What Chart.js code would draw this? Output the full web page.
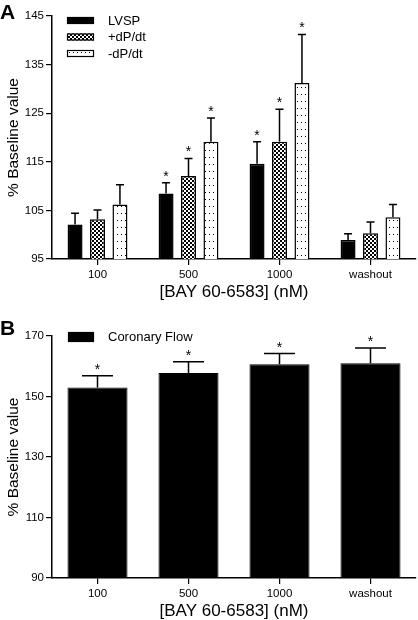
<!DOCTYPE html>
<html>
<head>
<meta charset="utf-8">
<script src="https://cdn.jsdelivr.net/npm/chart.js@4.4.0/dist/chart.umd.min.js"></script>
<style>
  html, body { margin: 0; padding: 0; background: #fff; }
  #wrap { position: relative; width: 418px; height: 620px; }
  canvas { position: absolute; left: 0; }
  #chartA { top: 0; }
  #chartB { top: 310px; }
</style>
</head>
<body>
<div id="wrap">
  <canvas id="chartA" width="418" height="310" style="width:418px;height:310px"></canvas>
  <canvas id="chartB" width="418" height="310" style="width:418px;height:310px"></canvas>
</div>
<script>
// doses of BAY 60-6583 on the x axis
const doses = ["100", "500", "1000", "washout"];

// panel A: % baseline, mean and SEM (upper whisker only)
const lvsp = [102.1, 108.5, 114.6, 98.9];
const lvspErr = [2.3, 2.2, 4.5, 1.3];
const dpPlus = [103.2, 112.1, 119.1, 100.3];
const dpPlusErr = [1.9, 3.6, 6.7, 2.3];
const dpMinus = [106.2, 119.1, 131.2, 103.6];
const dpMinusErr = [4.1, 4.9, 10.0, 2.6];
const sigA = [false, true, true, false];

// panel B: coronary flow
const flow = [153.0, 157.8, 160.7, 161.0];
const flowErr = [3.9, 3.7, 3.5, 5.0];
const sigB = [true, true, true, true];

const FONT = "'Liberation Sans', Arial, Helvetica, sans-serif";
Chart.defaults.font.family = FONT;
Chart.defaults.color = "#000";

// fill patterns for the bars
function makePattern(w, h, bg, cells, size) {
  const c = document.createElement("canvas");
  c.width = w; c.height = h;
  const g = c.getContext("2d");
  g.fillStyle = bg; g.fillRect(0, 0, w, h);
  g.fillStyle = "#000";
  cells.forEach(([x, y]) => g.fillRect(x, y, size, size));
  return c.getContext("2d").createPattern(c, "repeat");
}
const checker = makePattern(4, 4, "#fff", [[0, 0], [2, 2]], 2);
const dotted = makePattern(4, 7, "#fff", [[1, 3]], 1);

// error whiskers, asterisks, legend and panel letter
const extras = {
  id: "extras",
  afterDatasetsDraw(chart, args, opts) {
    const ctx = chart.ctx;
    const y = chart.scales.y;
    ctx.save();
    ctx.strokeStyle = "#000";
    ctx.lineWidth = 1.5;
    chart.data.datasets.forEach((ds, i) => {
      const meta = chart.getDatasetMeta(i);
      meta.data.forEach((bar, j) => {
        const top = y.getPixelForValue(ds.data[j] + opts.errors[i][j]);
        ctx.beginPath();
        ctx.moveTo(bar.x, bar.y);
        ctx.lineTo(bar.x, top);
        ctx.moveTo(bar.x - opts.cap / 2, top);
        ctx.lineTo(bar.x + opts.cap / 2, top);
        ctx.stroke();
        if (opts.sig[j]) {
          ctx.fillStyle = "#000";
          ctx.font = "14px " + FONT;
          ctx.textAlign = "center";
          ctx.textBaseline = "alphabetic";
          ctx.fillText("*", bar.x, top - 2);
        }
      });
    });
    ctx.restore();
  },
  afterDraw(chart, args, opts) {
    const ctx = chart.ctx;
    const L = opts.legend;
    ctx.save();
    chart.data.datasets.forEach((ds, i) => {
      const by = L.y + i * L.gap;
      ctx.fillStyle = ds.backgroundColor;
      ctx.fillRect(L.x, by, L.w, L.h);
      ctx.strokeStyle = "#000";
      ctx.lineWidth = 1.2;
      ctx.strokeRect(L.x + 0.5, by + 0.5, L.w - 1, L.h - 1);
      ctx.fillStyle = "#000";
      ctx.font = "13px " + FONT;
      ctx.textAlign = "left";
      ctx.textBaseline = "middle";
      ctx.fillText(ds.label, L.textX, by + L.h / 2 + 0.5);
    });
    ctx.font = "bold 21px " + FONT;
    ctx.textAlign = "left";
    ctx.textBaseline = "alphabetic";
    ctx.fillText(opts.letter, 0, opts.letterY);
    ctx.restore();
  }
};

function axes(min, max, step, xHeight) {
  return {
    x: {
      afterFit: (s) => { s.height = xHeight; },
      border: { display: true, color: "#000", width: 1.5 },
      grid: { drawOnChartArea: false, offset: false, tickLength: 6, color: "#000", lineWidth: 1.2 },
      ticks: { font: { size: 11.5 }, padding: 3, color: "#000" },
      title: { display: true, text: "[BAY 60-6583] (nM)", font: { size: 17, lineHeight: 1 }, padding: { top: 0, bottom: 0 }, color: "#000" }
    },
    y: {
      min: min, max: max,
      afterFit: (s) => { s.width = 52; },
      border: { display: true, color: "#000", width: 1.5 },
      grid: { drawOnChartArea: false, tickLength: 6, color: "#000", lineWidth: 1.2 },
      ticks: { stepSize: step, font: { size: 11.5 }, padding: 2, color: "#000" },
      title: { display: true, text: "% Baseline value", font: { size: 15.5, lineHeight: 1.2 }, padding: { top: 4, bottom: 0 }, color: "#000" }
    }
  };
}

new Chart(document.getElementById("chartA"), {
  type: "bar",
  data: {
    labels: doses,
    datasets: [
      { label: "LVSP", data: lvsp, backgroundColor: "#000", borderColor: "#000", borderWidth: 1.5 },
      { label: "+dP/dt", data: dpPlus, backgroundColor: checker, borderColor: "#000", borderWidth: 1.5 },
      { label: "-dP/dt", data: dpMinus, backgroundColor: dotted, borderColor: "#000", borderWidth: 1.5 }
    ]
  },
  options: {
    responsive: false,
    animation: false,
    layout: { padding: { left: 0, right: 2, top: 16, bottom: 9 } },
    datasets: { bar: { categoryPercentage: 0.74, barPercentage: 0.667 } },
    scales: axes(95, 145, 10, 42),
    plugins: {
      legend: { display: false },
      tooltip: { enabled: false },
      extras: {
        errors: [lvspErr, dpPlusErr, dpMinusErr],
        sig: sigA,
        cap: 8,
        legend: { x: 67, y: 17, w: 27, h: 7, gap: 16.5, textX: 108 },
        letter: "A",
        letterY: 19
      }
    }
  },
  plugins: [extras]
});

new Chart(document.getElementById("chartB"), {
  type: "bar",
  data: {
    labels: doses,
    datasets: [
      { label: "Coronary Flow", data: flow, backgroundColor: "#000", borderColor: "#000", borderWidth: 1 }
    ]
  },
  options: {
    responsive: false,
    animation: false,
    layout: { padding: { left: 0, right: 2, top: 26, bottom: 0 } },
    datasets: { bar: { categoryPercentage: 0.66, barPercentage: 1 } },
    scales: axes(90, 170, 20, 42),
    plugins: {
      legend: { display: false },
      tooltip: { enabled: false },
      extras: {
        errors: [flowErr],
        sig: sigB,
        cap: 31,
        legend: { x: 68, y: 22, w: 26, h: 10, gap: 16.5, textX: 108 },
        letter: "B",
        letterY: 25
      }
    }
  },
  plugins: [extras]
});
</script>
</body>
</html>
